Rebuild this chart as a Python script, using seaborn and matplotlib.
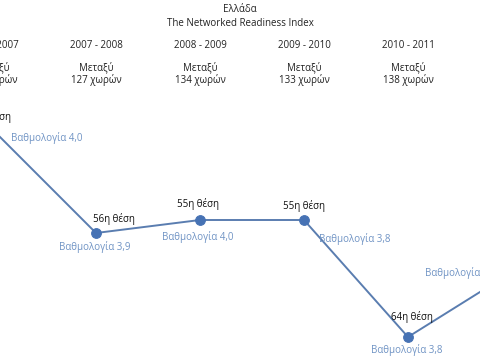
import pandas as pd
import matplotlib.pyplot as plt
import seaborn as sns
import numpy as np

title = 'Ελλάδα'
subtitle = 'The Networked Readiness Index'
periods = ['2006 - 2007', '2007 - 2008', '2008 - 2009', '2009 - 2010', '2010 - 2011', '2012']
countries = [122, 127, 134, 133, 138, 142]
ranks = [48, 56, 55, 55, 64, 59]
scores = ['4,0', '3,9', '4,0', '3,8', '3,8', '3,9']

df = pd.DataFrame({'idx': np.arange(len(periods)), 'rank': ranks})

# label offsets in pixels (layout only)
rank_off = [(-2, 12), (18, 14), (-2, 16), (0, 14), (4, 20), (0, 14)]
score_off = [(55, -9), (-1, -14), (-2, -17), (51, -19), (-1, -13), (-51, -1)]

sns.set_style('white')
plt.rcParams['font.family'] = ['Open Sans', 'DejaVu Sans']

fig = plt.figure(figsize=(4.8, 3.6), dpi=100)
ax = fig.add_axes([0, 0, 1, 1])
sns.lineplot(data=df, x='idx', y='rank', ax=ax, color='#5a7db0', linewidth=1.4,
             marker='o', markersize=7, markerfacecolor='#4672b4',
             markeredgecolor='#4672b4')
ax.set_xlim(0.077, 0.077 + 480 / 104)
ax.set_ylim(495 / 13 + 360 / 13, 495 / 13)
ax.axis('off')

fig.text(0.5, 1 - 10 / 360, title, ha='center', va='center', fontsize=7, color='#222222')
fig.text(0.5, 1 - 23 / 360, subtitle, ha='center', va='center', fontsize=7, color='#222222')

tr = ax.get_xaxis_transform()
for i, (p, c) in enumerate(zip(periods, countries)):
    ax.text(i, 1 - 45 / 360, p, transform=tr, ha='center', va='center', fontsize=7, color='#222222')
    ax.text(i, 1 - 67 / 360, 'Μεταξύ', transform=tr, ha='center', va='center', fontsize=7, color='#222222')
    ax.text(i, 1 - 80 / 360, f'{c} χωρών', transform=tr, ha='center', va='center', fontsize=7, color='#222222')

for i, (r, s) in enumerate(zip(ranks, scores)):
    ax.annotate(f'{r}η θέση', (i, r), xytext=rank_off[i], textcoords='offset pixels',
                ha='center', va='center', fontsize=7, color='#111111', annotation_clip=False)
    ax.annotate(f'Βαθμολογία {s}', (i, r), xytext=score_off[i], textcoords='offset pixels',
                ha='center', va='center', fontsize=7, color='#6f93c4', annotation_clip=False)

plt.savefig('out.png', dpi=100)
